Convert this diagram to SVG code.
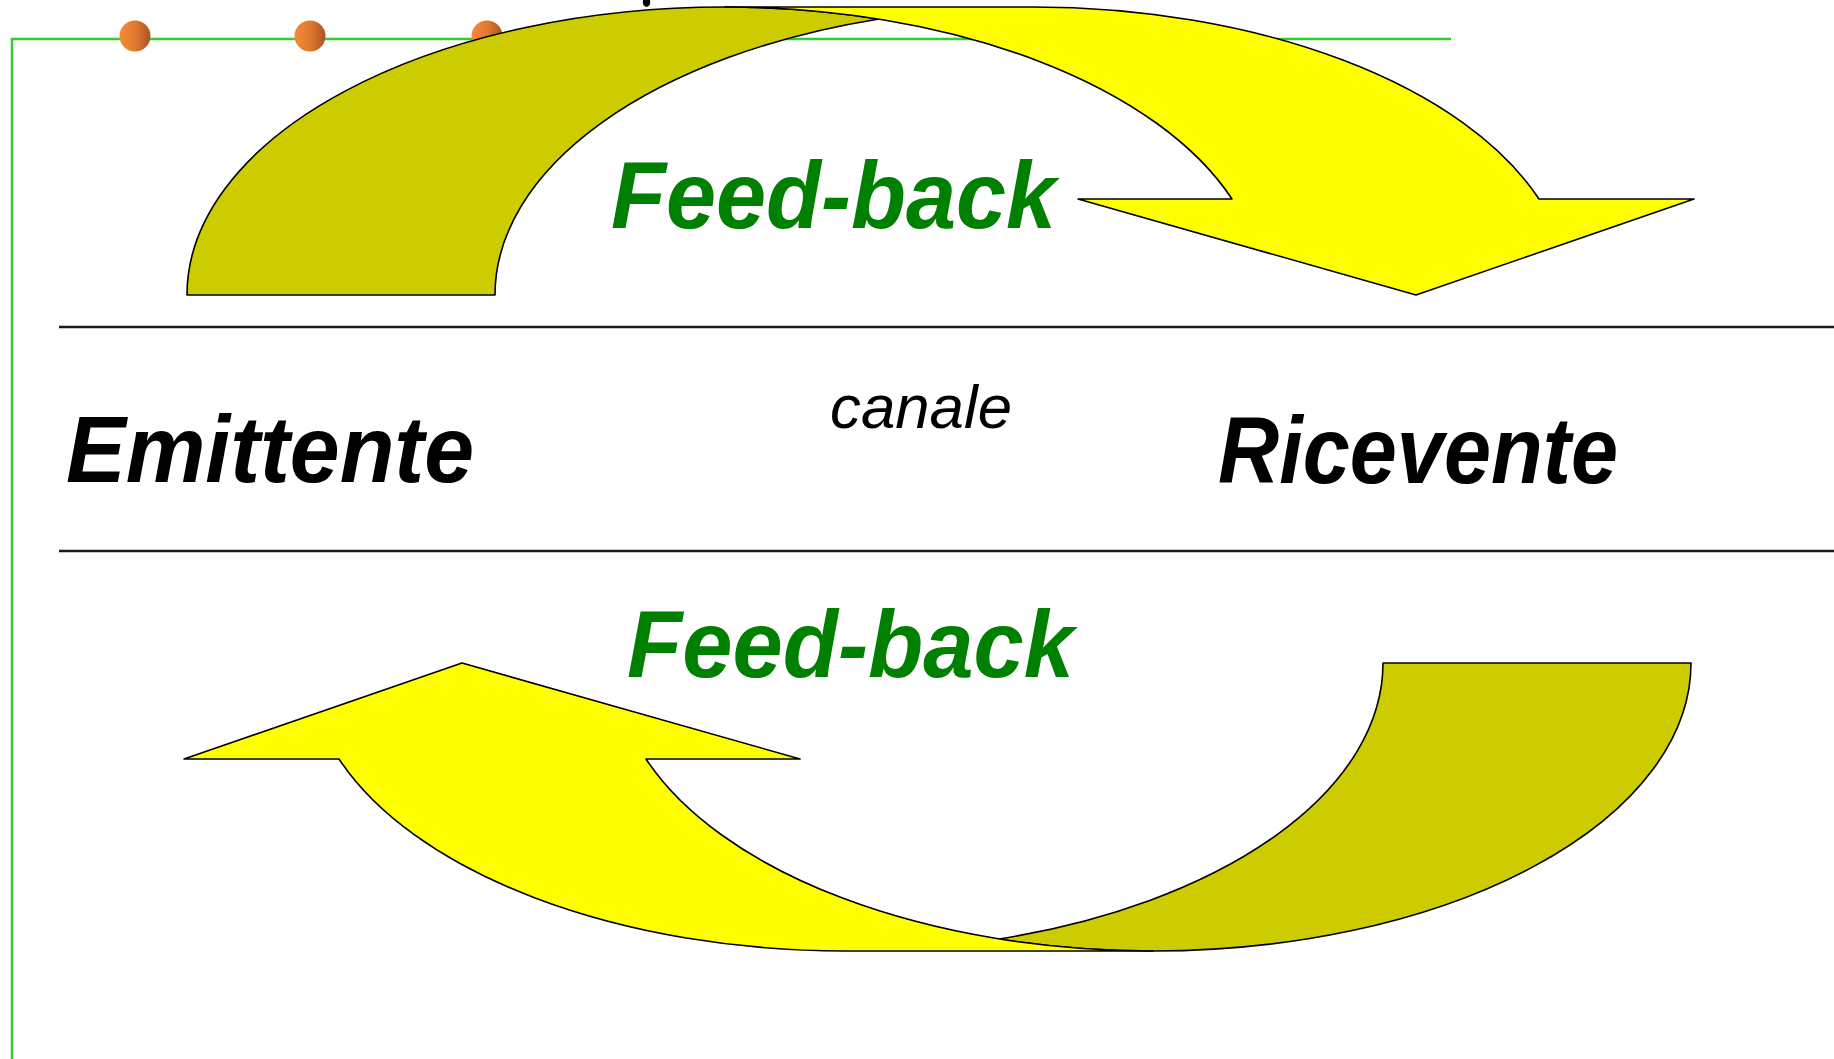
<svg xmlns="http://www.w3.org/2000/svg" width="1834" height="1059" viewBox="0 0 1834 1059">
  <style>
    .frame { stroke: #33cc33; stroke-width: 2.5; fill: none; }
    .rule { stroke: #1a1a1a; stroke-width: 2.5; fill: none; }
    .back { fill: #cccc00; stroke: #000; stroke-width: 1.6; stroke-linejoin: round; }
    .front { fill: #ffff00; stroke: #000; stroke-width: 1.6; stroke-linejoin: round; }
    .big { font-family: "Comic Sans MS", "Liberation Sans", "DejaVu Sans", sans-serif; font-weight: bold; font-style: italic; font-size: 94px; }
    .fb { fill: #008000; }
    .lbl { fill: #000; }
    .small { font-family: "Comic Sans MS", "Liberation Sans", "DejaVu Sans", sans-serif; font-style: italic; font-size: 62px; fill: #000; }
  </style>
  <defs>
    <linearGradient id="dotg" x1="0" y1="0" x2="1" y2="0">
      <stop offset="0" stop-color="#f58a38"/>
      <stop offset="0.5" stop-color="#e07a30"/>
      <stop offset="1" stop-color="#a85426"/>
    </linearGradient>
    <g id="curvedArrow">
      <path class="back" d="M187,295 A538,288 0 0 1 725,7 A538,288 0 0 1 879,19 A538,288 0 0 0 495,295 Z"/>
      <path class="front" d="M725,7 L1033,7 A538,288 0 0 1 1539,199 L1694,199 L1416,295 L1078,199 L1232,199 A538,288 0 0 0 725,7 Z"/>
    </g>
  </defs>
  <rect width="1834" height="1059" fill="#fff"/>
  <g id="frame">
    <path class="frame" d="M1451,39 H12 V1059"/>
    <circle cx="135" cy="36" r="15.5" fill="url(#dotg)"/>
    <circle cx="310" cy="36" r="15.5" fill="url(#dotg)"/>
    <circle cx="487" cy="36" r="15.5" fill="url(#dotg)"/>
  </g>
  <g id="channel">
    <line class="rule" x1="59" y1="327" x2="1834" y2="327"/>
    <line class="rule" x1="59" y1="551" x2="1834" y2="551"/>
  </g>
  <g id="connectors">
    <g id="feedback-top-arrow"><use href="#curvedArrow"/></g>
    <g id="feedback-bottom-arrow"><use href="#curvedArrow" transform="rotate(180 939 479)"/></g>
  </g>
  <path d="M643,0 L650,0 Q651,6 646.5,7 Q642,6 643,0 Z" fill="#000"/>
  <g id="emittente">
    <text class="big lbl" x="66" y="482" textLength="408" lengthAdjust="spacingAndGlyphs">Emittente</text>
  </g>
  <g id="ricevente">
    <text class="big lbl" x="1218" y="483" textLength="400" lengthAdjust="spacingAndGlyphs">Ricevente</text>
  </g>
  <g id="canale">
    <text class="small" x="830" y="428" textLength="182" lengthAdjust="spacingAndGlyphs">canale</text>
  </g>
  <g id="feedback-top">
    <text class="big fb" x="611" y="228" textLength="445" lengthAdjust="spacingAndGlyphs">Feed-back</text>
  </g>
  <g id="feedback-bottom">
    <text class="big fb" x="627" y="677" textLength="447" lengthAdjust="spacingAndGlyphs">Feed-back</text>
  </g>
</svg>
